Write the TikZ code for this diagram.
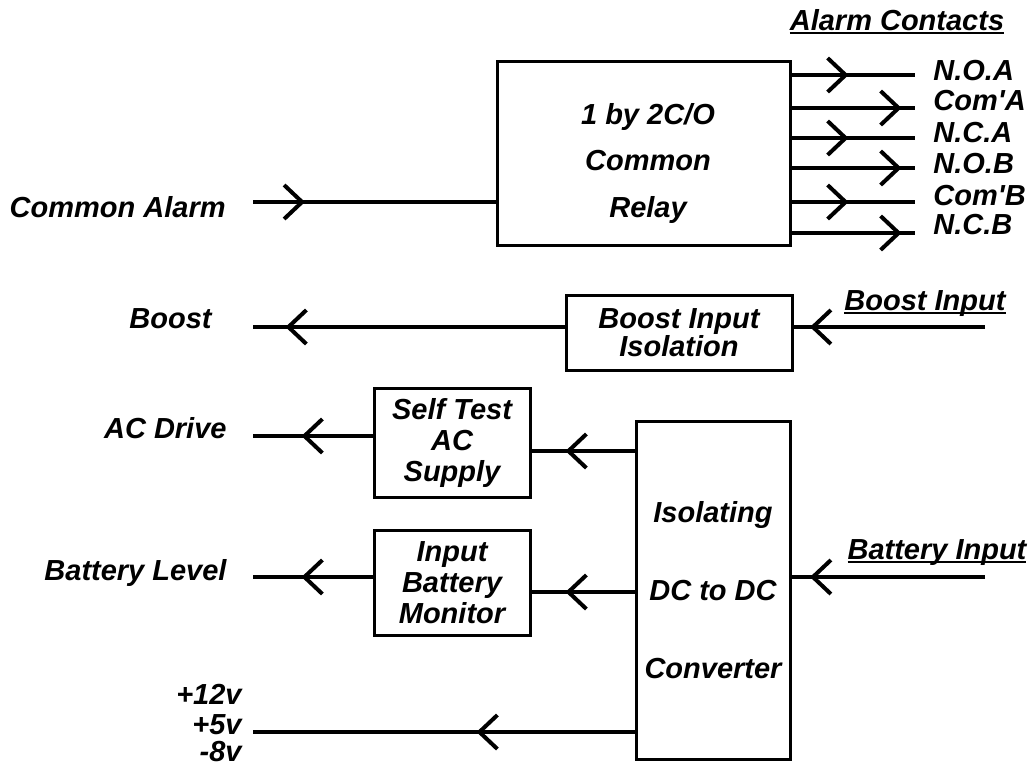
\documentclass[tikz,border=0pt]{standalone}
\usepackage{fontspec}
\setmainfont{Liberation Sans}
\usetikzlibrary{positioning,arrows.meta,decorations.markings}
\newcommand{\ulbl}[1]{\setbox0\hbox{#1}\rlap{\rule[-2.2pt]{\wd0}{1pt}}\box0}

\begin{document}
\begin{tikzpicture}[
    x=0.5pt, y=-0.5pt,
    font=\fontsize{14.5}{15.5}\selectfont\bfseries\itshape,
    blockbox/.style={rectangle, draw, line width=1.5pt, align=center, inner sep=0pt},
    wire/.style={line width=2pt},
    chev/.style={postaction={decorate, decoration={markings,
        mark=at position #1 with {\arrow{Straight Barb[length=9pt,width=17pt]}}}}},
    lbl/.style={inner sep=0pt}
]
    \useasboundingbox (0,0) rectangle (1032,766);

    % blocks
    \node[blockbox, minimum width=146.5pt, minimum height=92pt] (relay) at (643.5,153) {};
    \node[lbl, align=center] (relaytext) at (648,163) {1 by 2C/O\\[7.75pt]Common\\[7.75pt]Relay};
    \node[blockbox, minimum width=113pt, minimum height=37.5pt] (boostiso) at (679,332.5) {Boost Input\\[-1.5pt]Isolation};
    \node[blockbox, minimum width=78pt, minimum height=54.5pt] (selftest) at (452,442.5) {Self Test\\AC\\Supply};
    \node[blockbox, minimum width=78pt, minimum height=52.5pt] (monitor) at (452,582.5) {Input\\Battery\\Monitor};
    \node[blockbox, minimum width=77pt, minimum height=169pt] (converter) at (713,590) {Isolating\\[23.5pt]DC to DC\\[23.5pt]Converter};

    % labels
    \node[lbl, anchor=base] (contacts) at (897,30) {\ulbl{Alarm Contacts}};
    \node[lbl, anchor=base west] (noa) at (933,80) {N.O.A};
    \node[lbl, anchor=base west] (coma) at (933,110) {Com\textquotesingle A};
    \node[lbl, anchor=base west] (nca) at (933,142) {N.C.A};
    \node[lbl, anchor=base west] (nob) at (933,173) {N.O.B};
    \node[lbl, anchor=base west] (comb) at (933,205) {Com\textquotesingle B};
    \node[lbl, anchor=base west] (ncb) at (933,234) {N.C.B};
    \node[lbl, anchor=base east] (alarmlbl) at (226,217) {Common Alarm};
    \node[lbl, anchor=base east] (boostlbl) at (212,328) {Boost};
    \node[lbl, anchor=base] (boostinlbl) at (925,310) {\ulbl{Boost Input}};
    \node[lbl, anchor=base east] (aclbl) at (227,438) {AC Drive};
    \node[lbl, anchor=base east] (levellbl) at (227,580) {Battery Level};
    \node[lbl, anchor=base] (batinlbl) at (937,559) {\ulbl{Battery Input}};
    \node[lbl, anchor=base east] (p12lbl) at (242,704) {+12v};
    \node[lbl, anchor=base east] (p5lbl) at (242,734) {+5v};
    \node[lbl, anchor=base east] (m8lbl) at (242,761) {-8v};

    % wire ends
    \coordinate (alarmin) at (253,202);
    \coordinate (noaend) at (915,75);
    \coordinate (comaend) at (915,108);
    \coordinate (ncaend) at (915,138);
    \coordinate (nobend) at (915,168);
    \coordinate (combend) at (915,202);
    \coordinate (ncbend) at (915,233);
    \coordinate (boostout) at (253,327);
    \coordinate (boostin) at (985,327);
    \coordinate (acout) at (253,436);
    \coordinate (acfeed) at (583,451);
    \coordinate (levelout) at (253,577);
    \coordinate (monfeed) at (583,592);
    \coordinate (batin) at (985,577);
    \coordinate (supplyout) at (253,732);

    % wires
    \draw[wire, chev=26pt] (alarmin) -- (alarmin -| relay.west);
    \draw[wire, chev=28.5pt] (relay.east |- noaend) -- (noaend);
    \draw[wire, chev=55pt] (relay.east |- comaend) -- (comaend);
    \draw[wire, chev=28.5pt] (relay.east |- ncaend) -- (ncaend);
    \draw[wire, chev=55pt] (relay.east |- nobend) -- (nobend);
    \draw[wire, chev=28.5pt] (relay.east |- combend) -- (combend);
    \draw[wire, chev=55pt] (relay.east |- ncbend) -- (ncbend);
    \draw[wire, chev=139.5pt] (boostout -| boostiso.west) -- (boostout);
    \draw[wire, chev=87.5pt] (boostin) -- (boostin -| boostiso.east);
    \draw[wire, chev=35.5pt] (acout -| selftest.west) -- (acout);
    \draw[wire, chev=34.5pt] (acfeed -| converter.west) -- (acfeed -| selftest.east);
    \draw[wire, chev=35.5pt] (levelout -| monitor.west) -- (levelout);
    \draw[wire, chev=34.5pt] (monfeed -| converter.west) -- (monfeed -| monitor.east);
    \draw[wire, chev=87.5pt] (batin) -- (batin -| converter.east);
    \draw[wire, chev=79pt] (supplyout -| converter.west) -- (supplyout);
\end{tikzpicture}
\end{document}
